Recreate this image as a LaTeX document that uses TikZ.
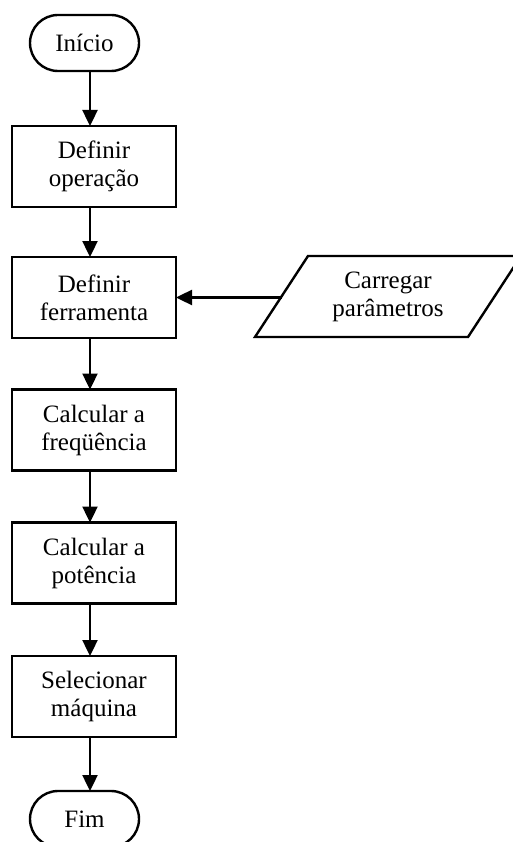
\documentclass[tikz,border=0pt]{standalone}
\usepackage{fontspec}
\setmainfont{Liberation Serif}
\usetikzlibrary{arrows.meta,shapes.misc}
\begin{document}
\begin{tikzpicture}[x=1pt,y=-1pt,
  every node/.style={font=\fontsize{25}{28}\selectfont, align=center, inner sep=0pt, outer sep=0pt},
  stepbox/.style={draw, line width=2.4pt, minimum width=164pt, minimum height=81pt},
  term/.style={draw, line width=2.4pt, rounded rectangle, minimum width=109pt, minimum height=56pt},
  arr/.style={line width=2.4pt, -{Triangle[length=16pt,width=15pt]}}]
\useasboundingbox (0,0) rectangle (513,842);
\clip (0,0) rectangle (513,842);
\coordinate (ax) at (90,0);
\node[term] (t1) at (84.5,43) {Início};
\node[stepbox] (r1) at (94,166.5) {Definir\\operação};
\node[stepbox] (r2) at (94,297.5) {Definir\\ferramenta};
\node[stepbox] (r3) at (94,430) {Calcular a\\freqüência};
\node[stepbox] (r4) at (94,563) {Calcular a\\potência};
\node[stepbox] (r5) at (94,696.5) {Selecionar\\máquina};
\node[term] (t2) at (84.5,819) {Fim};
% parallelogram
\coordinate (pa) at (255,337);
\coordinate (pb) at (308,256);
\coordinate (pc) at (521,256);
\coordinate (pd) at (468,337);
\draw[line width=2.4pt, line join=miter] (pa) -- (pb) -- (pc) -- (pd) -- cycle;
\node (p) at (388,297) {Carregar\\parâmetros};
\coordinate (pl) at (281.8,297.5);
\draw[arr] (t1.south -| ax) -- (r1.north -| ax);
\draw[arr] (r1.south -| ax) -- (r2.north -| ax);
\draw[arr] (r2.south -| ax) -- (r3.north -| ax);
\draw[arr] (r3.south -| ax) -- (r4.north -| ax);
\draw[arr] (r4.south -| ax) -- (r5.north -| ax);
\draw[arr] (r5.south -| ax) -- (t2.north -| ax);
\draw[arr] (pl) -- (r2.east);
\end{tikzpicture}
\end{document}
